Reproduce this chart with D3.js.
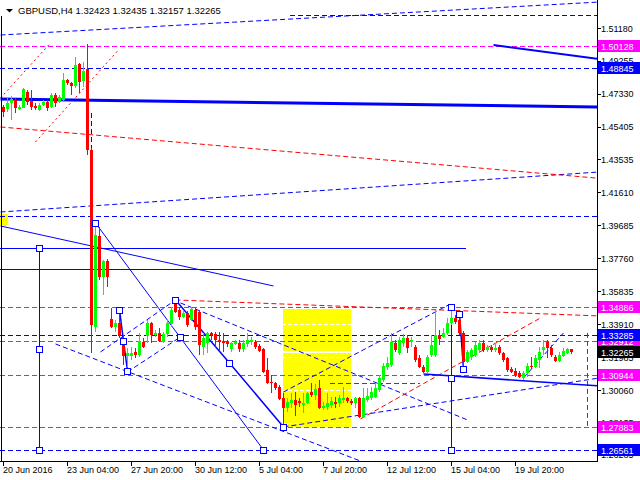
<!DOCTYPE html>
<html><head><meta charset="utf-8">
<script src="https://cdn.jsdelivr.net/npm/d3@7"></script>
<style>
body{margin:0;background:#fff}
svg{display:block}
text{font-family:"Liberation Sans",Arial,sans-serif}
</style>
</head><body>
<svg id="c" width="640" height="480"></svg>
<script>
// ---------------- DATA ----------------
const symbolTitle = "GBPUSD,H4  1.32423 1.32435 1.32157 1.32265";
const timeTickBars = [0,16,32,48,64,80,96,112,128];
const timeTickLabels = ["20 Jun 2016","23 Jun 04:00","27 Jun 20:00","30 Jun 12:00","5 Jul 04:00","7 Jul 20:00","12 Jul 12:00","15 Jul 04:00","19 Jul 20:00"];
const priceTicks = [1.51180,1.49255,1.47330,1.45405,1.43535,1.41610,1.39685,1.37760,1.35835,1.33910,1.31985,1.30060,1.28135,1.26285];

const opens = [1.4659,1.4644,1.4679,1.4698,1.4644,1.4653,1.4746,1.4694,1.4663,1.4640,1.4669,1.4688,1.4659,1.4727,1.4688,1.4698,1.4815,1.4799,1.4780,1.4908,1.4811,1.4879,1.4406,1.3374,1.3905,1.3666,1.3759,1.3421,1.3374,1.3397,1.3298,1.3205,1.3205,1.3228,1.3211,1.3286,1.3321,1.3397,1.3327,1.3339,1.3286,1.3333,1.3391,1.3514,1.3473,1.3432,1.3456,1.3415,1.3473,1.3461,1.3257,1.3281,1.3339,1.3333,1.3298,1.3292,1.3286,1.3246,1.3275,1.3281,1.3246,1.3275,1.3286,1.3286,1.3263,1.3246,1.3123,1.3053,1.3047,1.3024,1.2960,1.2901,1.2930,1.2948,1.2942,1.2919,1.2930,1.2995,1.2977,1.3018,1.2901,1.2907,1.2919,1.2936,1.2930,1.2948,1.2960,1.2942,1.2930,1.2960,1.2849,1.2948,1.2960,1.2966,1.3006,1.3065,1.3141,1.3152,1.3281,1.3222,1.3281,1.3310,1.3286,1.3257,1.3193,1.3141,1.3111,1.3211,1.3211,1.3327,1.3316,1.3339,1.3397,1.3426,1.3415,1.3339,1.3170,1.3199,1.3211,1.3240,1.3281,1.3240,1.3257,1.3240,1.3257,1.3222,1.3193,1.3129,1.3117,1.3106,1.3076,1.3106,1.3146,1.3141,1.3181,1.3240,1.3286,1.3251,1.3199,1.3176,1.3205,1.3222,1.32423];
const highs = [1.4669,1.4717,1.4721,1.4710,1.4669,1.4770,1.4756,1.4756,1.4679,1.4679,1.4698,1.4698,1.4737,1.4737,1.4727,1.4854,1.4819,1.4805,1.4950,1.4914,1.4921,1.5025,1.4420,1.3981,1.3957,1.3765,1.3770,1.3485,1.3415,1.3473,1.3327,1.3251,1.3257,1.3251,1.3339,1.3310,1.3415,1.3403,1.3356,1.3368,1.3345,1.3415,1.3491,1.3531,1.3491,1.3473,1.3467,1.3491,1.3485,1.3473,1.3339,1.3345,1.3345,1.3345,1.3345,1.3339,1.3298,1.3286,1.3298,1.3298,1.3298,1.3339,1.3316,1.3298,1.3275,1.3251,1.3193,1.3094,1.3053,1.3036,1.2989,1.2960,1.2989,1.2995,1.2960,1.2989,1.2995,1.3047,1.3041,1.3065,1.2936,1.2989,1.2966,1.2966,1.2977,1.3024,1.2966,1.2954,1.2966,1.2966,1.3018,1.3018,1.3024,1.3047,1.3094,1.3164,1.3199,1.3339,1.3298,1.3316,1.3333,1.3327,1.3316,1.3269,1.3211,1.3152,1.3211,1.3327,1.3473,1.3356,1.3368,1.3426,1.3491,1.3444,1.3426,1.3351,1.3240,1.3251,1.3286,1.3298,1.3298,1.3269,1.3269,1.3281,1.3269,1.3228,1.3199,1.3141,1.3135,1.3117,1.3117,1.3164,1.3199,1.3211,1.3257,1.3298,1.3298,1.3269,1.3211,1.3228,1.3251,1.3251,1.32435];
const lows = [1.4601,1.4628,1.4581,1.4624,1.4640,1.4650,1.4669,1.4640,1.4640,1.4634,1.4663,1.4636,1.4650,1.4659,1.4682,1.4688,1.4785,1.4727,1.4768,1.4737,1.4776,1.4377,1.3222,1.3345,1.3648,1.3561,1.3607,1.3368,1.3345,1.3310,1.3152,1.3141,1.3181,1.3193,1.3199,1.3251,1.3281,1.3281,1.3316,1.3286,1.3281,1.3316,1.3374,1.3456,1.3415,1.3427,1.3374,1.3409,1.3356,1.3211,1.3211,1.3222,1.3298,1.3257,1.3240,1.3228,1.3257,1.3228,1.3269,1.3228,1.3228,1.3257,1.3269,1.3246,1.3228,1.3106,1.3041,1.2989,1.3006,1.2948,1.2790,1.2878,1.2901,1.2855,1.2907,1.2872,1.2925,1.2966,1.2948,1.2895,1.2890,1.2890,1.2901,1.2901,1.2907,1.2930,1.2930,1.2919,1.2901,1.2843,1.2843,1.2936,1.2948,1.2960,1.2995,1.3053,1.3123,1.3141,1.3228,1.3211,1.3257,1.3222,1.3257,1.3170,1.3135,1.3106,1.3106,1.3199,1.3199,1.3269,1.3310,1.3327,1.3386,1.3391,1.3327,1.3129,1.3164,1.3181,1.3199,1.3228,1.3228,1.3228,1.3228,1.3228,1.3211,1.3170,1.3111,1.3106,1.3082,1.3076,1.3065,1.3082,1.3129,1.3135,1.3135,1.3211,1.3193,1.3199,1.3170,1.3170,1.3199,1.3216,1.32157];
const closes = [1.4630,1.4682,1.4702,1.4650,1.4659,1.4760,1.4688,1.4659,1.4653,1.4669,1.4688,1.4650,1.4727,1.4679,1.4714,1.4815,1.4795,1.4780,1.4902,1.4805,1.4867,1.4406,1.3386,1.3911,1.3666,1.3759,1.3666,1.3374,1.3397,1.3321,1.3205,1.3222,1.3222,1.3211,1.3292,1.3257,1.3397,1.3327,1.3339,1.3292,1.3333,1.3397,1.3473,1.3461,1.3432,1.3456,1.3386,1.3479,1.3374,1.3269,1.3310,1.3339,1.3327,1.3298,1.3286,1.3281,1.3275,1.3281,1.3286,1.3246,1.3281,1.3298,1.3298,1.3257,1.3234,1.3111,1.3047,1.3044,1.3018,1.2954,1.2901,1.2936,1.2948,1.2919,1.2930,1.2930,1.2989,1.2977,1.3012,1.2901,1.2913,1.2930,1.2942,1.2925,1.2960,1.2960,1.2942,1.2930,1.2960,1.2849,1.2960,1.2971,1.2995,1.3018,1.3076,1.3146,1.3164,1.3286,1.3240,1.3298,1.3310,1.3251,1.3298,1.3181,1.3141,1.3111,1.3199,1.3269,1.3327,1.3304,1.3339,1.3397,1.3426,1.3403,1.3339,1.3170,1.3228,1.3240,1.3269,1.3281,1.3240,1.3257,1.3240,1.3251,1.3222,1.3181,1.3123,1.3111,1.3094,1.3082,1.3106,1.3146,1.3141,1.3193,1.3228,1.3257,1.3251,1.3211,1.3176,1.3211,1.3234,1.3246,1.32265];

// horizontal levels (price), with their right-axis label colour group
const magentaLevels = [1.50128,1.34886,1.32912,1.30944,1.27883];
const blueLevels = [1.48845,1.33285,1.26561];
const currentPrice = 1.32265;
const blueDashLevels = [1.40213];
const blueSolidLevels = [1.37121];
// partial horizontal lines: [fromBar, toBar, price]
const blueSolidPartial = [[-1,115.75,1.38346]];
const blueDashPartial = [[71.75,149,1.51938]];
const redDashPartial = [[81.75,104.25,1.30471]];

// trend segments: [bar1, price1, bar2, price2]
const blueDashTrends = [
  [-0.75,1.50771,149,1.52696],
  [-0.75,1.40446,149,1.42780],
  [13,1.32746,90.5,1.25805],
  [24.25,1.32280,43,1.35313],
  [31,1.31113,44.25,1.33155],
  [44.25,1.35138,116,1.28313],
  [70,1.29946,111.25,1.35021],
  [70,1.27905,149,1.30763],
  [130,1.30763,140,1.33388],
  [22,1.46221,22,1.32221]
];
const redDashTrends = [
  [-0.75,1.45405,148,1.42430],
  [43,1.35313,149,1.34380],
  [89.25,1.28371,134.25,1.34263],
  [146,1.33388,146,1.27846]
];
const redDotTrends = [
  [-0.75,1.47096,11.75,1.50305],
  [8,1.44530,28.5,1.49838]
];
const blueThinTrends = [
  [-0.75,1.39630,67.5,1.36130],
  [23,1.39805,65,1.26563],
  [9,1.38346,9,1.26563],
  [112,1.34905,112,1.26563]
];
const blueWavePaths = [
  [[29,1.3473],[30,1.3292],[31,1.3117]],
  [[43,1.35313],[56.5,1.31638],[70,1.27905]],
  [[114,1.3450],[115,1.3127]]
];
const blueMediumTrends = [[105,1.30996,149,1.30296]];
const blueThickTrends = [[-0.75,1.47038,149,1.46571]];
const blueBoldTrends = [[122.5,1.50188,149,1.49371]];
const anchorPoints = [[9,1.38346],[9,1.32455],[9,1.26563],[112,1.34905],[112,1.30763],[112,1.26563],
  [23,1.39805],[65,1.26563],[29,1.3473],[30,1.3292],[31,1.3117],[43,1.35313],[44.25,1.33155],[56.5,1.31638],[70,1.27905],[114,1.3450],[115,1.3127]];
// zones [bar1, bar2, priceTop, priceBottom]
const yellowZones = [[70,87,1.34788,1.32338],[70,87,1.32221,1.27905]];
const markerZone = [[-0.75,1.3,1.40330,1.39630]];

// ---------------- DRAW ----------------
const svg = d3.select("#c");
const W = 640, H = 480, plotR = 597, plotB = 461;
const x = d3.scaleLinear().domain([0,1]).range([3,7]);
const y = d3.scaleLinear().domain([1.51180,1.30060]).range([28,390]);

svg.append("rect").attr("width",W).attr("height",H).attr("fill","#fff");
svg.append("clipPath").attr("id","pc").append("rect").attr("x",0).attr("y",0).attr("width",plotR).attr("height",plotB);
const plot = svg.append("g").attr("clip-path","url(#pc)");

plot.selectAll(".yz").data(yellowZones).enter().append("rect")
  .attr("x",d=>x(d[0])).attr("width",d=>x(d[1])-x(d[0]))
  .attr("y",d=>y(d[2])).attr("height",d=>y(d[3])-y(d[2])).attr("fill","#ffff00");
plot.selectAll(".mz").data(markerZone).enter().append("rect")
  .attr("x",d=>x(d[0])).attr("width",d=>x(d[1])-x(d[0]))
  .attr("y",d=>y(d[2])).attr("height",d=>y(d[3])-y(d[2])).attr("fill","#ffff00");

// white grid (visible only on the yellow)
plot.selectAll(".gr").data(priceTicks).enter().append("line")
  .attr("x1",0).attr("x2",plotR).attr("y1",d=>Math.round(y(d))+0.5).attr("y2",d=>Math.round(y(d))+0.5)
  .attr("stroke","#fff").attr("stroke-dasharray","4,2");
plot.append("line").attr("x1",0).attr("x2",plotR)
  .attr("y1",Math.round(y(currentPrice))+0.5).attr("y2",Math.round(y(currentPrice))+0.5).attr("stroke","#fff");

function hline(g, p, x1, x2, color, dash, w){
  const yy = Math.round(y(p))+0.5;
  g.append("line").attr("x1",x1).attr("x2",x2).attr("y1",yy).attr("y2",yy)
    .attr("stroke",color).attr("stroke-width",w||1).attr("stroke-dasharray",dash||null);
}
magentaLevels.forEach(p=>hline(plot,p,0,plotR,"#ff00ff","5,3"));
blueLevels.forEach(p=>hline(plot,p,0,plotR,"#0000ff","5,3"));
blueDashLevels.forEach(p=>hline(plot,p,0,plotR,"#0000ff","5,3"));
blueSolidLevels.forEach(p=>hline(plot,p,0,plotR,"#0000ff",null));
blueSolidPartial.forEach(d=>hline(plot,d[2],x(d[0]),x(d[1]),"#0000ff",null));
blueDashPartial.forEach(d=>hline(plot,d[2],x(d[0]),x(d[1]),"#0000ff","5,3"));
redDashPartial.forEach(d=>hline(plot,d[2],x(d[0]),x(d[1]),"#ff0000","5,3"));

function segs(data, color, dash, w){
  plot.append("g").selectAll("line").data(data).enter().append("line")
    .attr("x1",d=>x(d[0])+0.5).attr("y1",d=>y(d[1])).attr("x2",d=>x(d[2])+0.5).attr("y2",d=>y(d[3]))
    .attr("stroke",color).attr("stroke-width",w).attr("stroke-dasharray",dash);
}
segs(blueDashTrends,"#0000ff","5,3",1);
segs(redDashTrends,"#ff0000","5,3",1);
segs(redDotTrends,"#ff0000","2,3",1);
segs(blueThinTrends,"#0000ff",null,1);
segs(blueMediumTrends,"#0000ff",null,1.6);
segs(blueThickTrends,"#0000ff",null,3);
segs(blueBoldTrends,"#0000ff",null,2);
const ln = d3.line().x(d=>x(d[0])+0.5).y(d=>y(d[1]));
plot.append("g").selectAll("path").data(blueWavePaths).enter().append("path")
  .attr("d",ln).attr("fill","none").attr("stroke","#0000ff").attr("stroke-width",1.5);

// candles
const idx = d3.range(opens.length);
const cg = plot.append("g").attr("shape-rendering","crispEdges");
idx.forEach(i=>{
  const X = Math.round(x(i));
  const up = closes[i] >= opens[i];
  const col = up ? "#00ff00" : "#ff0000";
  cg.append("line").attr("x1",X+0.5).attr("x2",X+0.5).attr("y1",y(highs[i])).attr("y2",y(lows[i])).attr("stroke",col);
  const t = Math.min(y(opens[i]),y(closes[i])), b = Math.max(y(opens[i]),y(closes[i]));
  cg.append("rect").attr("x",X-1).attr("width",3).attr("y",t).attr("height",Math.max(1,b-t)).attr("fill",col);
});

// anchor squares
plot.append("g").selectAll("rect").data(anchorPoints).enter().append("rect")
  .attr("x",d=>Math.round(x(d[0]))-2.5).attr("y",d=>Math.round(y(d[1]))-2.5).attr("width",6).attr("height",6)
  .attr("fill","#fff").attr("stroke","#0000ff");

// frame
const fg = svg.append("g").attr("shape-rendering","crispEdges");
fg.append("line").attr("x1",plotR+0.5).attr("x2",plotR+0.5).attr("y1",0).attr("y2",plotB+1).attr("stroke","#000");
fg.append("line").attr("x1",0).attr("x2",plotR+1).attr("y1",plotB+0.5).attr("y2",plotB+0.5).attr("stroke","#000");
fg.append("line").attr("x1",1.5).attr("x2",1.5).attr("y1",16).attr("y2",plotB+1).attr("stroke","#000");

// right axis ticks and labels
fg.selectAll(".pt").data(priceTicks).enter().append("line")
  .attr("x1",plotR).attr("x2",plotR+4).attr("y1",d=>Math.round(y(d))+0.5).attr("y2",d=>Math.round(y(d))+0.5).attr("stroke","#000");
svg.selectAll(".pl").data(priceTicks).enter().append("text")
  .attr("x",601).attr("y",d=>y(d)+3.5).attr("font-size","9px").attr("fill","#000").text(d=>d.toFixed(5));

// bottom axis
fg.selectAll(".tt").data(timeTickBars).enter().append("line")
  .attr("x1",d=>Math.round(x(d))+0.5).attr("x2",d=>Math.round(x(d))+0.5).attr("y1",plotB).attr("y2",plotB+5).attr("stroke","#000");
svg.selectAll(".tl").data(timeTickBars).enter().append("text")
  .attr("x",d=>x(d)).attr("y",473).attr("font-size","9px").attr("fill","#000")
  .text((d,i)=>timeTickLabels[i]);

// price boxes
function box(p, fill){
  const yy = Math.round(y(p));
  svg.append("rect").attr("x",598).attr("y",yy-6).attr("width",42).attr("height",12).attr("fill",fill);
  svg.append("text").attr("x",601).attr("y",yy+3.5).attr("font-size","9px").attr("fill","#fff").text(p.toFixed(5));
}
magentaLevels.forEach(p=>box(p,"#ff00ff"));
blueLevels.forEach(p=>box(p,"#0000ff"));
box(currentPrice,"#000");

// title
svg.append("rect").attr("x",2).attr("y",0).attr("width",224).attr("height",16).attr("fill","#fff");
svg.append("path").attr("d","M6,9 L13,9 L9.5,12.5 Z").attr("fill","#000");
svg.append("text").attr("x",18).attr("y",14).attr("font-size","9.5px").attr("fill","#000").text(symbolTitle);
</script>
</body></html>
